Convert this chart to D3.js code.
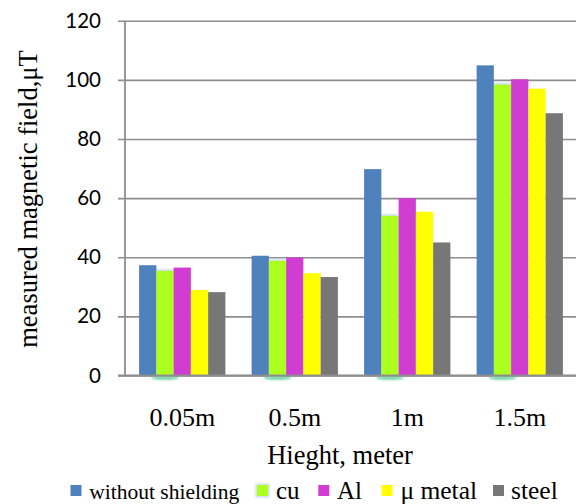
<!DOCTYPE html>
<html>
<head>
<meta charset="utf-8">
<script src="https://cdn.jsdelivr.net/npm/d3@7"></script>
<style>
  html, body { margin: 0; padding: 0; background: #fff; }
  svg { display: block; }
</style>
</head>
<body>
<svg id="chart" width="576" height="504"></svg>
<script>
// Measured field at each height, per shielding material (µT)
const heights = ["0.05m", "0.5m", "1m", "1.5m"];
const seriesNames = ["without shielding", "cu", "Al", "μ metal", "steel"];
const withoutShielding = [37.3, 40.5, 69.8, 104.9];
const cu = [35.4, 38.8, 54.0, 98.4];
const al = [36.5, 39.9, 60.0, 100.2];
const muMetal = [28.9, 34.6, 55.4, 97.0];
const steel = [28.2, 33.3, 45.0, 88.7];
const yTicks = [0, 20, 40, 60, 80, 100, 120];
const colors = ["#4F81BD", "#ADFF1F", "#D13CD1", "#FFFF00", "#777777"];

const seriesValues = [withoutShielding, cu, al, muMetal, steel];
const rows = heights.map((h, i) => ({
  height: h,
  values: seriesNames.map((name, s) => ({ name, s, value: seriesValues[s][i] }))
}));

const svg = d3.select("#chart");
const plot = { left: 125, right: 576, top: 20.7, bottom: 375.5 };

const y = d3.scaleLinear().domain([0, 120]).range([plot.bottom, plot.top]);
const x0 = d3.scaleBand().domain(heights).range([plot.left + 1, plot.right])
  .paddingInner(0.233).paddingOuter(0.1165);
const x1 = d3.scaleBand().domain(seriesNames).range([0, x0.bandwidth()]);
const color = d3.scaleOrdinal().domain(seriesNames).range(colors);

const serif = "'Liberation Serif', 'Times New Roman', Times, serif";

// soft glow used on the cu bars
const defs = svg.append("defs");
const blur = defs.append("filter").attr("id", "soft").attr("x", "-50%").attr("y", "-50%")
  .attr("width", "200%").attr("height", "200%");
blur.append("feGaussianBlur").attr("stdDeviation", 1.2);

// value axis with gridlines
const yAxis = svg.append("g")
  .attr("transform", `translate(${plot.left},0)`)
  .call(d3.axisLeft(y).tickValues(yTicks)
    .tickSizeInner(-(plot.right - plot.left)).tickSizeOuter(0).tickPadding(24));
yAxis.select(".domain").remove();
yAxis.selectAll(".tick line")
  .attr("x1", -7)
  .attr("stroke", "#8E8E8E").attr("stroke-width", 1.6);
yAxis.selectAll(".tick text")
  .attr("font-family", "Lato, 'Open Sans', sans-serif")
  .attr("font-size", 20.5)
  .attr("fill", "#000");
yAxis.append("line")
  .attr("x1", 0).attr("x2", 0).attr("y1", plot.top).attr("y2", plot.bottom)
  .attr("stroke", "#8E8E8E").attr("stroke-width", 1.8);

// grouped bars
const groups = svg.append("g").selectAll("g")
  .data(rows).join("g")
  .attr("transform", d => `translate(${x0(d.height)},0)`);

// green shadow under the cu bars
groups.append("ellipse")
  .attr("cx", d => x1("cu") + x1.bandwidth() / 2)
  .attr("cy", plot.bottom + 2.5)
  .attr("rx", x1.bandwidth() * 0.8)
  .attr("ry", 1.8)
  .attr("fill", "#36C27E")
  .attr("opacity", 0.75)
  .attr("filter", "url(#soft)");

groups.selectAll("rect.glow")
  .data(d => d.values.filter(v => v.name === "cu"))
  .join("rect").attr("class", "glow")
  .attr("x", v => x1(v.name) - 1.5)
  .attr("y", v => y(v.value) - 1.5)
  .attr("width", x1.bandwidth() + 1.5)
  .attr("height", v => y(0) - y(v.value) + 1.5)
  .attr("fill", "#C9DAF0")
  .attr("filter", "url(#soft)");

groups.selectAll("rect.bar")
  .data(d => d.values)
  .join("rect").attr("class", "bar")
  .attr("x", v => x1(v.name))
  .attr("y", v => y(v.value))
  .attr("width", x1.bandwidth())
  .attr("height", v => y(0) - y(v.value))
  .attr("fill", v => color(v.name));

// baseline drawn over the bars
svg.append("line")
  .attr("x1", plot.left - 7).attr("x2", plot.right)
  .attr("y1", plot.bottom).attr("y2", plot.bottom)
  .attr("stroke", "#8E8E8E").attr("stroke-width", 1.8);

// category labels
svg.append("g").selectAll("text")
  .data(heights).join("text")
  .attr("x", d => x0(d) + x0.bandwidth() / 2)
  .attr("y", 426)
  .attr("text-anchor", "middle")
  .attr("font-family", serif)
  .attr("font-size", 26)
  .attr("fill", "#000")
  .text(d => d);

// axis titles
svg.append("text")
  .attr("x", 340).attr("y", 464)
  .attr("text-anchor", "middle")
  .attr("font-family", serif).attr("font-size", 26.5)
  .text("Hieght, meter");

svg.append("text")
  .attr("transform", "translate(37,199) rotate(-90)")
  .attr("text-anchor", "middle")
  .attr("font-family", serif).attr("font-size", 26.5)
  .text("measured magnetic field,μT");

// legend
const legendItems = [
  { name: "without shielding", sx: 70.5, tx: 89.3, fs: 21.5 },
  { name: "cu", sx: 257, tx: 276, fs: 25 },
  { name: "Al", sx: 318.3, tx: 337, fs: 25 },
  { name: "μ metal", sx: 381.5, tx: 400.4, fs: 25.5 },
  { name: "steel", sx: 493, tx: 511, fs: 25.5 }
];
const legend = svg.append("g");
legend.selectAll("rect.glow")
  .data(legendItems.filter(d => d.name === "cu"))
  .join("rect").attr("class", "glow")
  .attr("x", d => d.sx - 1.5).attr("y", 483.5)
  .attr("width", 14).attr("height", 14)
  .attr("fill", "#C9DAF0").attr("filter", "url(#soft)");
legend.selectAll("rect.key")
  .data(legendItems).join("rect").attr("class", "key")
  .attr("x", d => d.sx).attr("y", 485)
  .attr("width", 11).attr("height", 11)
  .attr("fill", d => color(d.name));
legend.selectAll("text")
  .data(legendItems).join("text")
  .attr("x", d => d.tx).attr("y", 499)
  .attr("font-family", serif)
  .attr("font-size", d => d.fs)
  .attr("fill", "#000")
  .text(d => d.name);
</script>
</body>
</html>
